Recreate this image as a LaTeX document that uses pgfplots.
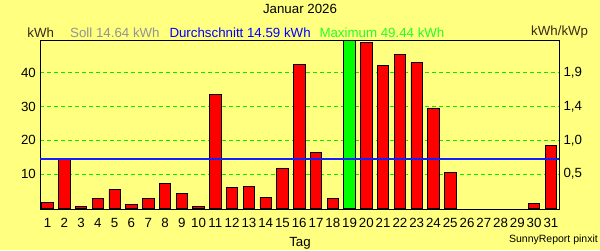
\documentclass[border=0pt]{standalone}
\usepackage{pgfplots}
\pgfplotsset{compat=1.18}
\usepackage{fontspec}
\setmainfont{Liberation Sans}
\definecolor{bg}{HTML}{FFFF80}
\definecolor{gridgreen}{HTML}{00EE00}
\definecolor{barred}{HTML}{FF0000}
\definecolor{bargreen}{HTML}{00FF00}
\definecolor{txtgreen}{HTML}{22FF22}
\definecolor{sollgray}{HTML}{939393}
\definecolor{unitbrown}{HTML}{3C2814}
\definecolor{avgblue}{HTML}{1020FF}
\begin{document}
\fontsize{13.3bp}{15bp}\selectfont
\begin{tikzpicture}[x=1bp,y=1bp]
\fill[bg] (0,0) rectangle (600,250);
\useasboundingbox (0,0) rectangle (600,250);
\pgfplotsset{
  common/.style={
    at={(40bp,40.7bp)}, anchor=south west, scale only axis,
    width=519.3bp, height=169bp,
    xmin=0.55, xmax=31.5, ymin=-0.4, ymax=49.6,
    /pgf/number format/assume math mode=true,
    major tick length=0pt, tick style={draw=none},
    axis line style={black, line width=0.8bp},
    ytick={10,20,30,40},
  }
}
\begin{axis}[common,
  ybar, bar width=0.68,
  xtick={1,...,31},
  ymajorgrids,
  grid style={gridgreen, dash pattern=on 4bp off 3bp, line width=0.8bp},
  xticklabel style={inner sep=0pt, anchor=north, yshift=-8.5bp},
  yticklabel style={inner sep=0pt, anchor=east, xshift=-4bp},
]
\addplot[bar shift=0pt, fill=barred, draw=black, line width=0.8bp] coordinates {
(1,1.6) (2,14.45) (3,0.5) (4,2.8) (5,5.4) (6,1.05) (7,2.8) (8,7.2) (9,4.25) (10,0.5)
(11,33.7) (12,6.0) (13,6.3) (14,3.1) (15,11.8) (16,42.4) (17,16.4) (18,2.8)
(20,49.0) (21,42.1) (22,45.3) (23,43.0) (24,29.6) (25,10.6) (30,1.3) (31,18.5)
};
\addplot[bar shift=0pt, fill=bargreen, draw=black, line width=0.8bp] coordinates {(19,49.44)};
\addplot[sharp plot, avgblue, line width=2bp] coordinates {(0.55,14.59) (31.5,14.59)};
\end{axis}
\begin{axis}[common,
  axis y line*=right, hide x axis,
  yticklabels={{0,5},{1,0},{1,4},{1,9}},
  yticklabel style={inner sep=0pt, anchor=west, xshift=4bp},
]
\addplot[draw=none] coordinates {(1,0)};
\end{axis}
\node at (300,241) {Januar 2026};
\node[anchor=west, inner sep=0pt, text=unitbrown] at (27.3,217.7) {kWh};
\node[anchor=west, inner sep=0pt, text=sollgray] at (70,217.7) {Soll 14.64 kWh};
\node[anchor=west, inner sep=0pt, text=blue] at (169.3,217.7) {Durchschnitt 14.59 kWh};
\node[anchor=west, inner sep=0pt, text=txtgreen] at (319.3,217.7) {Maximum 49.44 kWh};
\node[anchor=west, inner sep=0pt, text=unitbrown] at (531,217.7) {kWh/kWp};
\node at (300,7) {Tag};
\node[anchor=east, inner sep=0pt, font=\fontsize{10.5bp}{12bp}\selectfont] at (598,10) {SunnyReport pinxit};
\end{tikzpicture}
\end{document}
